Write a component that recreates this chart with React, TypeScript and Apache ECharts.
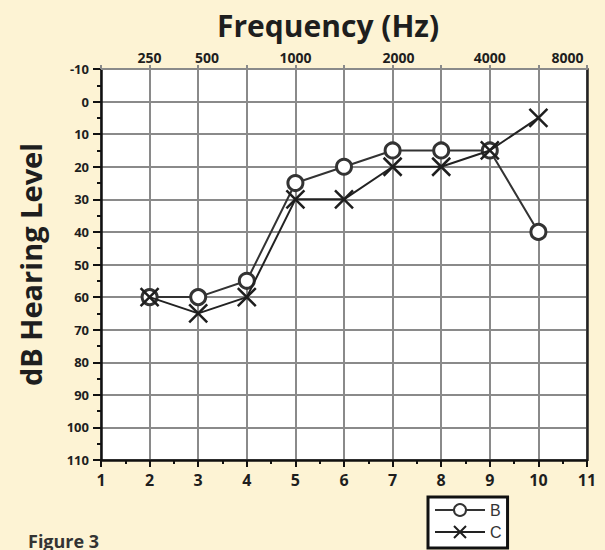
import { useEffect, useRef } from "react";
import * as echarts from "echarts";

const xPositions = [2, 3, 4, 5, 6, 7, 8, 9, 10];
const seriesB = [60, 60, 55, 25, 20, 15, 15, 15, 40];
const seriesC = [60, 65, 60, 30, 30, 20, 20, 15, 5];
const freqLabels = ["250", "500", "1000", "2000", "4000", "8000"];
const freqLabelAt = [2, 3.18, 5, 7.12, 9, 10.6];

const FONT = "'Open Sans', 'DejaVu Sans', sans-serif";

export default function App() {
  const ref = useRef<HTMLDivElement>(null);
  useEffect(() => {
    const chart = echarts.init(ref.current!, null, { renderer: "svg" });
    const gridColor = "#8a8a8a";
    const ink = "#1e1e1e";
    chart.setOption({
      animation: false,
      backgroundColor: "#fdf3d4",
      textStyle: { fontFamily: FONT },
      title: {
        text: "Frequency (Hz)",
        left: 212,
        top: 5,
        textStyle: { fontFamily: FONT, fontSize: 30, fontWeight: "bold", color: ink },
      },
      grid: { left: 101, right: 18, top: 69, bottom: 90, show: true, backgroundColor: "#fff", borderWidth: 0 },
      legend: {
        orient: "vertical",
        left: 428,
        top: 497,
        height: 80,
        backgroundColor: "#fff",
        borderColor: "#111",
        borderWidth: 3,
        borderRadius: 0,
        padding: [5, 6, 8, 6],
        itemWidth: 50,
        itemHeight: 15,
        itemGap: 6,
        textStyle: { fontFamily: "'Liberation Sans', Arial, sans-serif", fontSize: 16, color: "#333" },
        data: ["B", "C"],
      },
      xAxis: [
        {
          type: "value",
          min: 1,
          max: 11,
          interval: 1,
          position: "bottom",
          axisLine: { show: true, onZero: false, lineStyle: { color: "#111", width: 2.5 } },
          axisTick: { show: true, length: 7, lineStyle: { color: "#111", width: 2 } },
          minorTick: { show: true, splitNumber: 2, length: 4, lineStyle: { color: "#111", width: 2 } },
          axisLabel: { margin: 12, fontSize: 16, fontWeight: "bold", color: ink, fontFamily: FONT },
          splitLine: { show: true, lineStyle: { color: gridColor, width: 2 } },
        },
        {
          type: "value",
          min: 1,
          max: 11,
          interval: 1,
          position: "top",
          axisLine: { show: true, onZero: false, lineStyle: { color: gridColor, width: 2 } },
          axisTick: { show: true, length: 4, lineStyle: { color: gridColor, width: 2 } },
          axisLabel: {
            customValues: freqLabelAt,
            formatter: (v: number) => {
              const i = freqLabelAt.findIndex((p) => Math.abs(p - v) < 1e-6);
              return i >= 0 ? freqLabels[i] : "";
            },
            margin: 5,
            fontSize: 14,
            fontWeight: "bold",
            color: ink,
            fontFamily: FONT,
          },
          splitLine: { show: false },
        },
      ],
      yAxis: [
        {
          type: "value",
          min: -10,
          max: 110,
          interval: 10,
          inverse: true,
          position: "left",
          name: "dB Hearing Level",
          nameLocation: "middle",
          nameGap: 56,
          nameTextStyle: { fontFamily: FONT, fontSize: 29, fontWeight: "bold", color: ink },
          axisLine: { show: true, onZero: false, lineStyle: { color: "#111", width: 2.5 } },
          axisTick: { show: true, length: 8, lineStyle: { color: "#111", width: 2 } },
          minorTick: { show: true, splitNumber: 2, length: 4, lineStyle: { color: "#111", width: 2 } },
          axisLabel: { margin: 12, fontSize: 13, fontWeight: "bold", color: ink, fontFamily: FONT },
          splitLine: { show: true, lineStyle: { color: gridColor, width: 2 } },
        },
        {
          type: "value",
          min: -10,
          max: 110,
          interval: 10,
          inverse: true,
          position: "right",
          axisLine: { show: true, onZero: false, lineStyle: { color: "#222", width: 2.5 } },
          axisTick: { show: false },
          axisLabel: { show: false },
          splitLine: { show: false },
        },
      ],
      series: [
        {
          name: "B",
          type: "line",
          xAxisIndex: 0,
          yAxisIndex: 0,
          data: xPositions.map((x, i) => [x, seriesB[i]]),
          symbol: "circle",
          symbolSize: 15,
          itemStyle: { color: "#fff", borderColor: "#333", borderWidth: 3 },
          lineStyle: { color: "#333", width: 2 },
          z: 3,
        },
        {
          name: "C",
          type: "line",
          xAxisIndex: 0,
          yAxisIndex: 0,
          data: xPositions.map((x, i) => [x, seriesC[i]]),
          symbol: "path://M0,0L10,10M10,0L0,10",
          symbolSize: 18,
          itemStyle: { color: "transparent", borderColor: "#1e1e1e", borderWidth: 2.5 },
          lineStyle: { color: "#222", width: 2 },
          z: 4,
        },
      ],
      graphic: [
        {
          type: "text",
          left: 28,
          top: 532,
          style: { text: "Figure 3", fontSize: 18, fontWeight: "bold", fill: "#333", fontFamily: FONT },
        },
      ],
    });
    return () => chart.dispose();
  }, []);
  return <div ref={ref} style={{ position: "fixed", left: 0, top: 0, width: 605, height: 550 }} />;
}
